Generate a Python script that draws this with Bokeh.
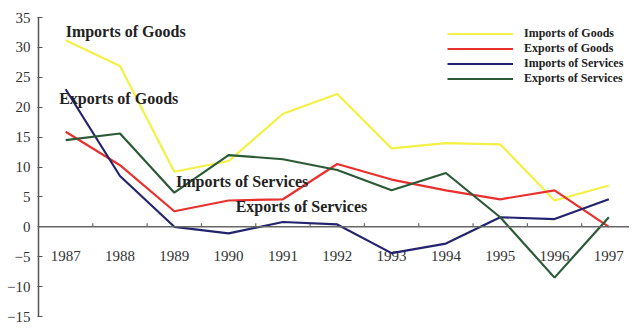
from bokeh.plotting import figure
from bokeh.models import Span, Label, FixedTicker, Legend, LegendItem
from bokeh.core.properties import value
from bokeh.embed import file_html
from bokeh.resources import INLINE

years = [1987, 1988, 1989, 1990, 1991, 1992, 1993, 1994, 1995, 1996, 1997]
imports_goods = [31.2, 26.9, 9.2, 11.0, 18.9, 22.2, 13.1, 14.0, 13.8, 4.4, 6.9]
exports_goods = [15.9, 10.3, 2.6, 4.4, 4.6, 10.5, 7.9, 6.1, 4.6, 6.1, 0.0]
imports_services = [23.0, 8.5, 0.0, -1.1, 0.8, 0.4, -4.4, -2.8, 1.6, 1.3, 4.6]
exports_services = [14.5, 15.6, 5.7, 12.0, 11.3, 9.5, 6.1, 9.0, 1.6, -8.5, 1.6]
y_ticks = [-15, -10, -5, 0, 5, 10, 15, 20, 25, 30, 35]
series_names = ["Imports of Goods", "Exports of Goods", "Imports of Services", "Exports of Services"]
series_colors = ["#f4f044", "#e8302e", "#24246e", "#2c5a36"]

FONT = "Liberation Serif"

p = figure(width=629, height=324, output_backend="svg", toolbar_location=None,
           x_range=(1986.5, 1997.38), y_range=(-15, 35), x_axis_type=None,
           min_border_left=38, min_border_right=0, min_border_top=17, min_border_bottom=8)
p.outline_line_color = None
p.grid.visible = False
p.background_fill_color = "white"

ax = p.yaxis[0]
ax.ticker = FixedTicker(ticks=y_ticks)
ax.minor_tick_line_color = None
ax.major_tick_in = 4
ax.major_tick_out = 1
ax.major_label_standoff = 7
ax.axis_line_color = "#555555"
ax.axis_line_width = 1.5
ax.major_tick_line_color = "#555555"
ax.major_label_text_font = FONT
ax.major_label_text_font_size = "15px"
ax.major_label_text_color = "#333333"

# zero line acting as x axis
p.add_layout(Span(location=0, dimension="width", line_color="#666666", line_width=1.5))
mids = [y + 0.5 for y in years[:-1]]
p.segment(x0=mids, x1=mids, y0=[0] * len(mids), y1=[0.6] * len(mids), line_color="#666666", line_width=1.2)
p.text(x=years, y=[-4.8] * len(years), text=[str(y) for y in years], text_font=value(FONT),
       text_font_size="15px", text_align="center", text_baseline="middle", text_color="#333333")

items = []
for name, vals, col in zip(series_names, [imports_goods, exports_goods, imports_services, exports_services], series_colors):
    r = p.line(years, vals, line_color=col, line_width=2.2)
    items.append(LegendItem(label=name, renderers=[r]))

leg = Legend(items=items, location=(409, 230), background_fill_alpha=0, border_line_color=None,
             label_text_font=FONT, label_text_font_size="12px", label_text_font_style="bold",
             glyph_width=66, glyph_height=15, label_height=15, label_standoff=11, spacing=0,
             padding=0, margin=0, label_text_color="#222222")
p.add_layout(leg)

ann = [("Imports of Goods", 1987.0, 32.6), ("Exports of Goods", 1986.88, 21.4),
       ("Imports of Services", 1989.03, 7.5), ("Exports of Services", 1990.13, 3.4)]
for t, x, y in ann:
    p.add_layout(Label(x=x, y=y, text=t, text_font=FONT, text_font_size="16px", text_font_style="bold",
                       text_baseline="middle", text_color="#222222"))

open("out.html", "w").write(file_html(p, INLINE))
